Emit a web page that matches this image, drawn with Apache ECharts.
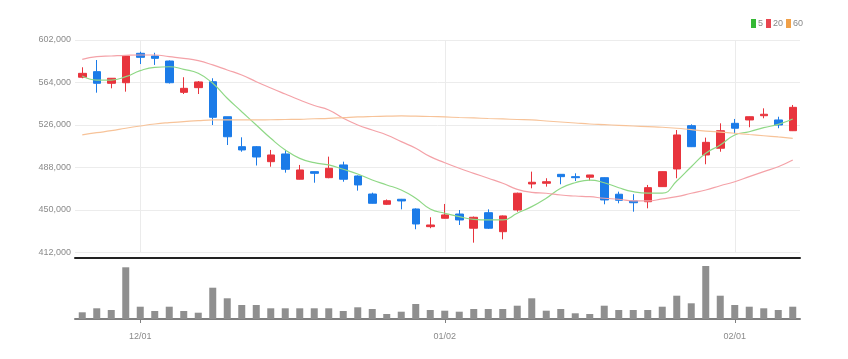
<!DOCTYPE html>
<html>
<head>
<meta charset="utf-8">
<script src="https://cdn.jsdelivr.net/npm/echarts@6/dist/echarts.min.js"></script>
<style>html,body{margin:0;padding:0;background:#fff}#c{width:848px;height:359px}</style>
</head>
<body>
<div id="c"></div>
<script>
const dates = ['11/25','11/26','11/27','11/28','12/01','12/02','12/03','12/04','12/05','12/08',
  '12/09','12/10','12/11','12/12','12/15','12/16','12/17','12/18','12/19','12/22',
  '12/23','12/24','12/26','12/29','12/30','01/02','01/05','01/06','01/07','01/08',
  '01/09','01/12','01/13','01/14','01/15','01/16','01/19','01/20','01/21','01/22',
  '01/23','01/26','01/27','01/28','01/29','02/01','02/02','02/03','02/04','02/05'];
const tickLabels = ['12/01','01/02','02/01'];
// [open, close, low, high]
const ohlc = [
  [568700,572200,567800,577600],[573700,563300,554900,584100],[563300,567800,558800,568000],[563800,587700,555800,587800],
  [590100,586500,580500,591500],[587700,585600,579700,590600],[583200,563800,563100,583700],[555200,558800,553700,568700],
  [559400,564500,553700,565300],[564700,532900,526000,567800],[533400,515500,508100,533400],[506600,503700,502100,515000],
  [506600,497400,489800,507200],[493200,499200,488700,503700],[500100,486400,483400,503700],[477500,485800,477300,490300],
  [484300,482800,474400,484500],[478900,487300,478400,497700],[490300,477500,475300,493200],[480400,472400,467300,480900],
  [464300,456000,455800,465500],[455100,458300,454500,459400],[459600,458100,450600,459900],[450900,437500,432800,451400],
  [435100,436600,433700,443500],[442600,445600,442400,455400],[446400,441100,436600,450000],[433700,443500,420800,444200],
  [447600,433700,433000,450600],[430600,444700,423800,445100],[450000,465000,448500,465500],[473300,474800,469400,484300],
  [473900,475300,470900,478400],[481900,479800,473000,482200],[479800,478900,475900,482800],[479300,481300,476200,481400],
  [478900,459000,455100,479100],[464100,458700,456000,466400],[458100,456500,448500,464100],[457400,470000,451500,472400],
  [470900,484300,470600,484500],[486700,517100,478400,521500],[525400,506600,506300,526600],[499200,510500,490900,514700],
  [505200,520900,502100,527500],[527500,523100,518600,531400],[530500,533400,524000,533600],[534300,535600,532000,540900],
  [530500,526000,523100,533400],[520900,541800,520600,543900]
];
const ma5 = [569800,566200,566200,569200,574600,577600,578100,575800,572200,563300,
  549900,537900,526000,514100,503700,496200,492300,490300,486400,482200,
  476800,472400,467900,460500,450900,447100,444000,441700,441100,441100,
  447100,453000,460500,469400,474400,476800,474400,469900,466400,465000,
  465000,475900,488700,500700,508100,517100,520000,523600,526600,531400];
const ma20 = [584700,587100,587700,588300,588600,588600,587100,585600,583500,579700,
  575200,570700,564700,559100,553700,548400,543400,539400,532000,526000,
  521500,517100,511100,505200,497700,492300,487300,482800,478400,473900,
  468500,465800,465000,463400,462500,461900,460500,459600,458100,458100,
  459900,461900,465000,467900,471700,475300,479800,484300,488700,494700];
const ma60 = [517100,519100,520900,523100,525100,526900,528100,529000,529900,530500,
  530500,530500,530500,530700,530900,531100,531600,532000,532600,533200,
  533600,533900,534100,533900,533600,533200,532700,532300,531800,531400,
  530900,530500,529600,528700,527800,526900,526300,525700,525100,524500,
  524000,523100,521800,520600,519600,518600,517500,516400,515300,514100];
const volume = [67,107,90,517,123,80,123,80,63,313,
  207,140,140,107,107,107,107,107,80,117,
  100,50,73,150,90,83,73,100,100,100,
  133,207,83,100,57,50,133,90,90,90,
  123,233,157,530,233,140,123,107,90,123];
const yTicks = {min:412000, max:602000, interval:38000};

const FONT = "'Liberation Sans Narrow','Liberation Sans',Arial,sans-serif";
const showTick = (i, v) => tickLabels.indexOf(v) >= 0;
const RED = '#e8343d', BLUE = '#1b7be8';

const chart = echarts.init(document.getElementById('c'), null, {renderer:'canvas'});
chart.setOption({
  animation: false,
  backgroundColor: '#fff',
  legend: {
    right: 45, top: 19, itemWidth: 5, itemHeight: 9, itemGap: 3, padding: 0,
    icon: 'rect',
    textStyle: {color:'#888', fontSize: 9, fontFamily: FONT, padding:[0,0,0,-3]},
    data: ['5','20','60']
  },
  grid: [
    {left: 75, right: 48, top: 40, height: 212.5},
    {left: 75, right: 48, top: 258, height: 61}
  ],
  xAxis: [
    {type:'category', gridIndex:0, data: dates, boundaryGap:true,
     axisLine:{show:false}, axisTick:{show:false}, axisLabel:{show:false},
     splitLine:{show:true, interval: showTick, alignWithLabel:true, lineStyle:{color:'#ebebeb', width:1}}},
    {type:'category', gridIndex:1, data: dates, boundaryGap:true, position:'bottom',
     axisLine:{show:true, lineStyle:{color:'#808080', width:2}},
     axisTick:{show:true, interval: showTick, alignWithLabel:true, length:4, lineStyle:{color:'#808080'}},
     axisLabel:{interval: showTick, color:'#8a8a8a', fontSize:9, fontFamily: FONT, margin:13},
     splitLine:{show:false}},
    {type:'category', gridIndex:1, data: dates, boundaryGap:true, position:'top',
     axisLine:{show:true, lineStyle:{color:'#222', width:2}},
     axisTick:{show:false}, axisLabel:{show:false}, splitLine:{show:false}}
  ],
  yAxis: [
    {type:'value', gridIndex:0, min: yTicks.min, max: yTicks.max, interval: yTicks.interval,
     axisLine:{show:false}, axisTick:{show:false},
     axisLabel:{color:'#8a8a8a', fontSize:9, fontFamily: FONT, margin:4,
       formatter: v => v.toLocaleString('en-US')},
     splitLine:{show:true, lineStyle:{color:'#ececec', width:1}}},
    {type:'value', gridIndex:1, min:0, max:610, show:false, splitLine:{show:false}}
  ],
  series: [
    {type:'candlestick', name:'price', xAxisIndex:0, yAxisIndex:0, data: ohlc, barWidth: 8,
     itemStyle:{color: RED, color0: BLUE, borderColor: RED, borderColor0: BLUE, borderWidth:1}},
    {type:'line', name:'5', xAxisIndex:0, yAxisIndex:0, data: ma5, smooth:true, showSymbol:false,
     itemStyle:{color:'#35b835'}, lineStyle:{color:'#8fd886', width:1.2}},
    {type:'line', name:'20', xAxisIndex:0, yAxisIndex:0, data: ma20, smooth:true, showSymbol:false,
     itemStyle:{color:'#e8454f'}, lineStyle:{color:'#f4a2a8', width:1.2}},
    {type:'line', name:'60', xAxisIndex:0, yAxisIndex:0, data: ma60, smooth:true, showSymbol:false,
     itemStyle:{color:'#f0a048'}, lineStyle:{color:'#f7c399', width:1.2}},
    {type:'bar', name:'vol', xAxisIndex:1, yAxisIndex:1, data: volume, barWidth: 7,
     itemStyle:{color:'#8f8f8f'}}
  ]
});
</script>
</body>
</html>
